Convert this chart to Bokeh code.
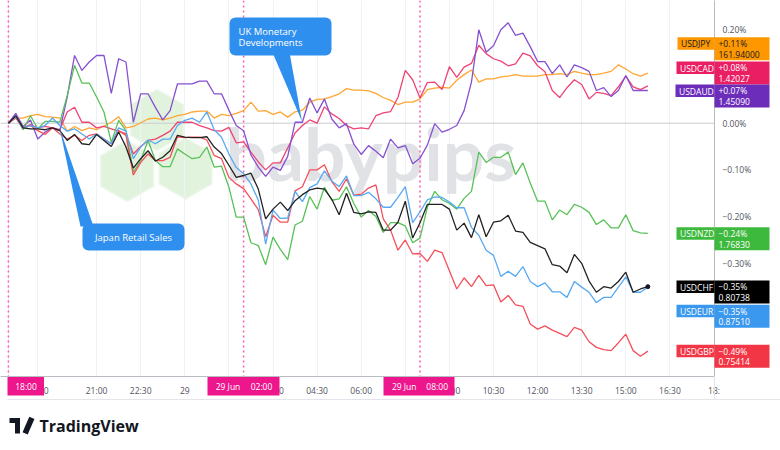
import math
import pandas as pd
from bokeh.plotting import figure
from bokeh.models import Range1d, FixedTicker, Span, Label, BoxAnnotation, PolyAnnotation, ColumnDataSource
from bokeh.core.properties import value
from bokeh.embed import file_html
from bokeh.resources import INLINE

# ---------------- data (percent change since 28 Jun 18:00, 15-minute bars) ----------------
times = pd.date_range("2024-06-28 18:00", "2024-06-29 15:45", freq="15min")
hours = [(t - pd.Timestamp("2024-06-29 00:00")).total_seconds() / 3600 for t in times]

usdjpy = [0.000, 0.011, 0.011, 0.016, 0.019, 0.014, 0.013, 0.011, -0.017, -0.007, -0.016, -0.010, -0.014, -0.006, 0.002, 0.014,
          -0.010, -0.007, 0.001, 0.009, 0.011, 0.007, 0.011, 0.016, 0.019, 0.024, 0.026, 0.026, 0.011, 0.019, 0.016,
          0.021, 0.027, 0.045, 0.026, 0.027, 0.019, 0.024, 0.013, 0.024, 0.028, 0.045, 0.051, 0.052, 0.057, 0.063, 0.074,
          0.071, 0.071, 0.069, 0.064, 0.055, 0.049, 0.040, 0.045, 0.045, 0.052, 0.072, 0.075, 0.077,
          0.075, 0.092, 0.104, 0.114, 0.088, 0.095, 0.095, 0.099, 0.101, 0.104, 0.101, 0.101, 0.101, 0.104, 0.104, 0.106,
          0.104, 0.111, 0.107, 0.104, 0.104, 0.107, 0.111, 0.125, 0.116, 0.106, 0.101, 0.107]
usdcad = [0.000, 0.014, -0.010, -0.003, -0.010, -0.007, -0.010, -0.014, 0.024, 0.034, 0.002, 0.002, -0.010, -0.007, -0.012, -0.017,
          -0.023, -0.066, -0.050, -0.037, -0.034, -0.026, -0.017, 0.002, 0.002, 0.002, -0.005, -0.010, -0.016, -0.017, -0.009,
          -0.042, -0.040, -0.062, -0.083, -0.100, -0.085, -0.085, -0.053, -0.021, -0.005, 0.007, 0.000, 0.035, 0.020, 0.010,
          -0.005, -0.012, -0.010, -0.012, 0.016, 0.022, 0.025, 0.055, 0.113, 0.093, 0.054, 0.087, 0.088, 0.072,
          0.121, 0.098, 0.120, 0.128, 0.167, 0.149, 0.138, 0.133, 0.123, 0.127, 0.150, 0.144, 0.123, 0.110, 0.070, 0.055,
          0.076, 0.093, 0.083, 0.052, 0.066, 0.064, 0.059, 0.078, 0.101, 0.078, 0.072, 0.080]
usdaud = [0.000, 0.021, -0.007, 0.007, -0.034, -0.019, -0.010, -0.016, 0.056, 0.145, 0.113, 0.131, 0.145, 0.145, 0.064, 0.138,
          0.131, 0.002, 0.063, 0.063, 0.034, 0.007, 0.027, 0.084, 0.084, 0.084, 0.090, 0.090, 0.063, 0.063, 0.028,
          -0.005, -0.016, -0.068, -0.094, -0.114, -0.094, -0.101, -0.071, 0.002, 0.002, 0.054, 0.022, 0.052, 0.009, -0.010,
          -0.001, -0.045, -0.067, -0.048, -0.060, -0.074, -0.034, -0.053, -0.048, -0.087, -0.075, -0.047, -0.001, -0.019,
          -0.013, -0.005, 0.027, 0.088, 0.200, 0.152, 0.166, 0.200, 0.215, 0.188, 0.193, 0.164, 0.132, 0.132, 0.106, 0.125,
          0.099, 0.125, 0.119, 0.111, 0.070, 0.076, 0.057, 0.070, 0.102, 0.070, 0.070, 0.070]
usdnzd = [0.000, 0.014, -0.014, 0.016, -0.012, 0.004, 0.004, 0.002, 0.059, 0.124, 0.086, 0.086, 0.056, 0.024, -0.041, 0.006,
          -0.016, -0.105, -0.080, -0.037, -0.080, -0.093, -0.093, -0.055, -0.066, -0.076, -0.073, -0.051, -0.094, -0.092, -0.137,
          -0.201, -0.201, -0.256, -0.262, -0.303, -0.244, -0.270, -0.292, -0.218, -0.210, -0.157, -0.184, -0.137, -0.165, -0.162,
          -0.136, -0.172, -0.201, -0.187, -0.200, -0.234, -0.213, -0.213, -0.220, -0.256, -0.246, -0.180, -0.146, -0.164,
          -0.172, -0.184, -0.161, -0.146, -0.062, -0.084, -0.073, -0.073, -0.062, -0.110, -0.085, -0.128, -0.167, -0.167, -0.207, -0.186,
          -0.196, -0.174, -0.180, -0.191, -0.217, -0.207, -0.224, -0.224, -0.196, -0.230, -0.235, -0.236]
usdchf = [0.000, 0.016, -0.010, -0.012, -0.012, -0.014, -0.010, -0.016, -0.037, -0.024, -0.044, -0.046, -0.024, -0.037, -0.050, -0.019,
          -0.051, -0.096, -0.076, -0.059, -0.081, -0.073, -0.059, -0.026, -0.030, -0.031, -0.031, -0.029, -0.051, -0.065, -0.090,
          -0.116, -0.112, -0.107, -0.141, -0.205, -0.184, -0.169, -0.187, -0.166, -0.153, -0.143, -0.139, -0.141, -0.163, -0.196,
          -0.150, -0.191, -0.194, -0.190, -0.191, -0.229, -0.229, -0.212, -0.167, -0.246, -0.213, -0.174, -0.174, -0.174,
          -0.184, -0.229, -0.214, -0.245, -0.196, -0.243, -0.212, -0.209, -0.197, -0.231, -0.234, -0.255, -0.262, -0.269, -0.303, -0.306,
          -0.320, -0.281, -0.300, -0.338, -0.362, -0.350, -0.353, -0.339, -0.319, -0.362, -0.355, -0.350]
usdeur = [0.000, 0.014, -0.010, -0.005, -0.010, -0.005, 0.011, -0.005, -0.017, -0.012, -0.023, -0.034, -0.023, -0.034, -0.044, -0.010,
          -0.017, -0.076, -0.051, -0.036, -0.044, -0.034, -0.034, -0.005, 0.006, 0.011, 0.002, 0.024, -0.014, -0.030, -0.066,
          -0.095, -0.108, -0.130, -0.165, -0.259, -0.186, -0.204, -0.203, -0.146, -0.168, -0.138, -0.130, -0.102, -0.124, -0.136,
          -0.113, -0.155, -0.155, -0.148, -0.162, -0.180, -0.180, -0.159, -0.136, -0.213, -0.190, -0.164, -0.158, -0.159,
          -0.169, -0.181, -0.181, -0.223, -0.240, -0.272, -0.283, -0.328, -0.317, -0.328, -0.307, -0.339, -0.350, -0.342, -0.361, -0.361,
          -0.373, -0.339, -0.351, -0.362, -0.384, -0.373, -0.373, -0.351, -0.329, -0.362, -0.362, -0.351]
usdgbp = [0.000, 0.011, -0.010, -0.005, -0.016, -0.024, -0.010, -0.023, -0.034, -0.026, -0.037, -0.026, -0.023, -0.034, -0.044, -0.016,
          -0.026, -0.111, -0.084, -0.066, -0.080, -0.080, -0.073, -0.029, -0.031, -0.030, -0.030, -0.036, -0.069, -0.076, -0.116,
          -0.130, -0.140, -0.162, -0.185, -0.243, -0.197, -0.212, -0.212, -0.145, -0.136, -0.100, -0.100, -0.089, -0.125, -0.146,
          -0.119, -0.154, -0.152, -0.139, -0.132, -0.205, -0.229, -0.272, -0.250, -0.280, -0.279, -0.296, -0.272, -0.277,
          -0.316, -0.355, -0.331, -0.350, -0.326, -0.348, -0.346, -0.383, -0.369, -0.389, -0.392, -0.430, -0.441, -0.434, -0.443, -0.450,
          -0.457, -0.437, -0.443, -0.468, -0.480, -0.485, -0.487, -0.470, -0.452, -0.487, -0.499, -0.488]

names = ["USDJPY", "USDCAD", "USDAUD", "USDNZD", "USDCHF", "USDEUR", "USDGBP"]
pct_labels = ["+0.11%", "+0.08%", "+0.07%", "\u22120.24%", "\u22120.35%", "\u22120.35%", "\u22120.49%"]
prices = ["161.94000", "1.42027", "1.45090", "1.76830", "0.80738", "0.87510", "0.75414"]
series = [usdjpy, usdcad, usdaud, usdnzd, usdchf, usdeur, usdgbp]

y_ticks = [0.2, 0.0, -0.1, -0.2, -0.3]
y_tick_labels = ["0.20%", "0.00%", "\u22120.10%", "\u22120.20%", "\u22120.30%"]
x_ticks = [-6, -5, -3, -1.5, 0, 1.5, 3, 4.5, 6, 7.5, 9, 10.5, 12, 13.5, 15, 16.5, 18]
x_tick_labels = ["", "19:00", "21:00", "22:30", "29", "", "03:00", "04:30", "06:00", "", "09:00",
                 "10:30", "12:00", "13:30", "15:00", "16:30", "18:"]
marked_times = [-6, 2, 8]
marked_labels = [("18:00",), ("29 Jun", "02:00"), ("29 Jun", "08:00")]

# ---------------- styles ----------------
line_colors = ["#FFA633", "#EF4374", "#8650D2", "#58C158", "#222222", "#58A9F2", "#F4505C"]
box_colors = ["#FF9800", "#E91E63", "#6C2DBB", "#3DB93D", "#000000", "#3A98EE", "#F23645"]
box_text = ["#131722", "white", "white", "white", "white", "white", "white"]
box_tops = [36.7, 61.0, 84.0, 226.8, 280.0, 304.3, 344.3]
name_left = [677, 676, 675, 676, 676, 676, 676]
draw_order = [0, 1, 2, 3, 6, 5, 4]

FONT = "Open Sans"
W, H = 780, 450
FR, FB = 714, 376          # frame right / bottom in canvas px (frame starts at 0,0)
X0, PXH = 184.3, 29.4      # px of 29 Jun 00:00, px per hour
Y0, PXP = 122.7, 467.0     # px of 0 %, px per 1 %


def dx(px):                # canvas px -> hours (for decorations)
    return (px - X0) / PXH


def dy(py):                # canvas px -> percent (for decorations)
    return (Y0 - py) / PXP


def sx(px):
    return px


def sy(py):
    return FB - py


p = figure(width=W, height=H, output_backend="svg", toolbar_location=None,
           x_range=Range1d(dx(0), dx(FR)), y_range=Range1d(dy(FB), dy(0)),
           y_axis_location="right",
           min_border_left=0, min_border_top=0, min_border_right=W - FR, min_border_bottom=H - FB,
           outline_line_color=None, background_fill_color="white", border_fill_color="white")

# axes
p.xaxis.ticker = FixedTicker(ticks=x_ticks)
p.xaxis.major_label_overrides = dict(zip(x_ticks, x_tick_labels))
p.yaxis.ticker = FixedTicker(ticks=y_ticks)
p.yaxis.major_label_overrides = dict(zip(y_ticks, y_tick_labels))
for ax in (p.xaxis[0], p.yaxis[0]):
    ax.axis_line_color = "#b8bbc2"
    ax.major_tick_line_color = None
    ax.minor_tick_line_color = None
    ax.major_tick_out = 0
    ax.major_tick_in = 0
    ax.minor_tick_out = 0
    ax.major_label_text_font = FONT
    ax.major_label_text_font_size = "8.5px"
    ax.major_label_text_color = "#50535e"
p.xaxis.major_label_standoff = 8
p.yaxis.major_label_standoff = 8
p.ygrid.visible = False
p.xgrid.grid_line_color = "#f0f1f4"

p.add_layout(Span(location=0, dimension="width", line_color="#c9cbd1", line_width=1, level="underlay"))

# watermark
hex_centers = [(156.5, 119.5), (126.7, 170.5), (185.0, 168.0)]
hx, hy = [], []
for cx, cy in hex_centers:
    r = 30.6
    pts = [(cx + r * math.cos(math.radians(90 + 60 * k)), cy - r * math.sin(math.radians(90 + 60 * k))) for k in range(6)]
    hx.append([dx(a) for a, b in pts])
    hy.append([dy(b) for a, b in pts])
p.patches(hx, hy, fill_color="#e2f3dd", line_color="#eef8ea", line_width=1.5, level="underlay")
p.add_layout(Label(x=sx(225), y=sy(152), x_units="screen", y_units="screen", text="babypips",
                   text_font="Lato", text_font_style="bold", text_font_size="73px",
                   text_color="#e1e2e5", text_baseline="alphabetic", level="underlay"))

# event markers
for t in marked_times:
    p.add_layout(Span(location=t, dimension="height", line_color="#FF5CAE", line_dash="2 3",
                      line_width=1.5, level="underlay"))

# lines
for k in draw_order:
    p.line(hours, series[k], line_color=line_colors[k], line_width=1.3)
p.scatter([hours[-1]], [usdchf[-1]], size=4, color="#131722")

# callouts
CALL = "#2F8FEF"
p.add_layout(PolyAnnotation(xs=[sx(59), sx(80), sx(93)], ys=[sy(127), sy(226), sy(226)],
                            xs_units="screen", ys_units="screen", fill_color=CALL, fill_alpha=1, line_color=None))
p.add_layout(BoxAnnotation(left=sx(82), right=sx(184), top=sy(223), bottom=sy(250),
                           left_units="screen", right_units="screen", top_units="screen", bottom_units="screen",
                           fill_color=CALL, fill_alpha=1, line_color=None, border_radius=6))
p.add_layout(Label(x=sx(133), y=sy(237), x_units="screen", y_units="screen", text="Japan Retail Sales",
                   text_font=FONT, text_font_size="9.5px", text_color="white",
                   text_align="center", text_baseline="middle"))
p.add_layout(PolyAnnotation(xs=[sx(272), sx(289), sx(301.5)], ys=[sy(52), sy(52), sy(121)],
                            xs_units="screen", ys_units="screen", fill_color=CALL, fill_alpha=1, line_color=None))
p.add_layout(BoxAnnotation(left=sx(229), right=sx(331), top=sy(17), bottom=sy(55),
                           left_units="screen", right_units="screen", top_units="screen", bottom_units="screen",
                           fill_color=CALL, fill_alpha=1, line_color=None, border_radius=6))
for txt, yy in (("UK Monetary", 31), ("Developments", 41.5)):
    p.add_layout(Label(x=sx(238), y=sy(yy), x_units="screen", y_units="screen", text=txt,
                       text_font=FONT, text_font_size="9.5px", text_color="white",
                       text_align="left", text_baseline="middle"))

# ---- overlay glyphs (drawn over the axes, outside the frame) ----
qs = dict(left=[], right=[], top=[], bottom=[], color=[])
tl = dict(x=[], y=[], text=[], color=[])     # left-aligned texts
tc = dict(x=[], y=[], text=[], color=[])     # centred texts

# thin frame lines of the time scale
for l, r, t, b in ((7, 780, 398.5, 399.5), (713.5, 714.5, 376, 399.5)):
    qs["left"].append(dx(l)); qs["right"].append(dx(r))
    qs["top"].append(dy(t)); qs["bottom"].append(dy(b))
    qs["color"].append("#e3e5ea")

for k in range(len(names)):
    top = box_tops[k]
    for l, r, h in ((name_left[k], FR, 12.5), (FR, 769, 23)):
        qs["left"].append(dx(l)); qs["right"].append(dx(r))
        qs["top"].append(dy(top)); qs["bottom"].append(dy(top + h))
        qs["color"].append(box_colors[k])
    for txt, xx, yy in ((names[k], name_left[k] + 3.5, top + 6.5),
                        (pct_labels[k], FR + 4, top + 6.3),
                        (prices[k], FR + 4, top + 17.0)):
        tl["x"].append(dx(xx)); tl["y"].append(dy(yy)); tl["text"].append(txt); tl["color"].append(box_text[k])

MARK = "#EE168C"
mark_boxes = [(7, 43.5), (207, 279), (383, 454)]
mark_text_x = [(25.5,), (227.5, 261), (403.7, 436.7)]
for (l, r), texts, xs in zip(mark_boxes, marked_labels, mark_text_x):
    qs["left"].append(dx(l)); qs["right"].append(dx(r))
    qs["top"].append(dy(376.5)); qs["bottom"].append(dy(395))
    qs["color"].append(MARK)
    for txt, xx in zip(texts, xs):
        tc["x"].append(dx(xx)); tc["y"].append(dy(386)); tc["text"].append(txt); tc["color"].append("white")

# TradingView logo pieces (bar, stem)
for l, r, t, b in ((9, 19.5, 417.5, 422.5), (14.5, 19.5, 417.5, 433)):
    qs["left"].append(dx(l)); qs["right"].append(dx(r))
    qs["top"].append(dy(t)); qs["bottom"].append(dy(b))
    qs["color"].append("#131722")

p.quad(left="left", right="right", top="top", bottom="bottom", fill_color="color", line_color=None,
       source=ColumnDataSource(qs), level="overlay")
p.text(x="x", y="y", text="text", text_color="color", source=ColumnDataSource(tl),
       text_font=value(FONT), text_font_size=value("8.5px"), text_baseline="middle", text_align="left",
       level="overlay")
p.text(x="x", y="y", text="text", text_color="color", source=ColumnDataSource(tc),
       text_font=value(FONT), text_font_size=value("8.5px"), text_baseline="middle", text_align="center",
       level="overlay")
# logo dot and slanted stroke
p.scatter(x=[dx(23.3)], y=[dy(420.2)], size=5.2, color="#131722", level="overlay")
p.rect(x=[dx(28.0)], y=[dy(425.2)], width=16.9, height=5.6, width_units="screen", height_units="screen",
       angle=1.16, fill_color="#131722", line_color=None, level="overlay")
p.text(x=[dx(39)], y=[dy(425.5)], text=["TradingView"], text_color="#131722",
       text_font=value(FONT), text_font_style="bold", text_font_size=value("16px"),
       text_baseline="middle", text_align="left", level="overlay")

open("out.html", "w").write(file_html(p, INLINE))
